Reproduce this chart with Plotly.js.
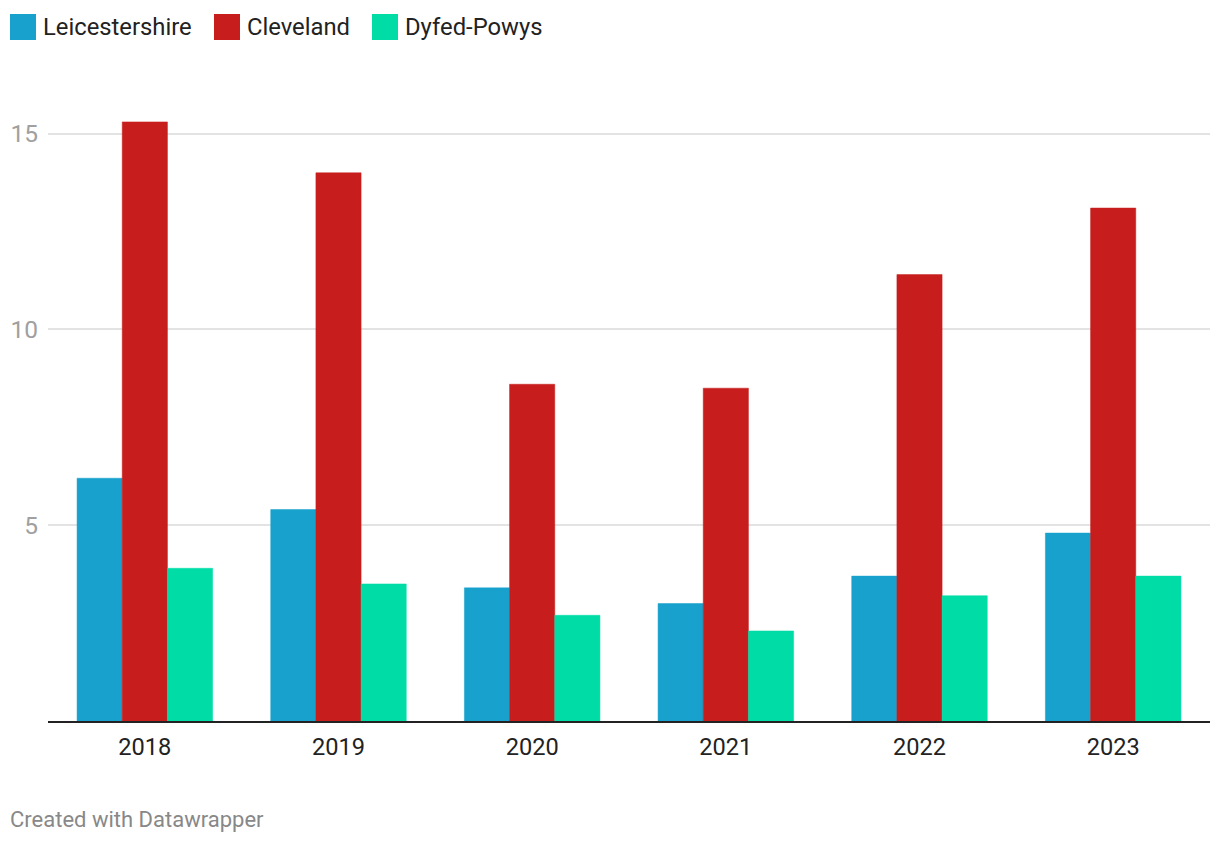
<!DOCTYPE html>
<html>
<head>
<meta charset="utf-8">
<script src="https://cdn.plot.ly/plotly-3.0.1.min.js"></script>
<style>
  html, body { margin: 0; padding: 0; background: #fff; }
  #chart { width: 1220px; height: 844px; }
</style>
</head>
<body>
<div id="chart"></div>
<script>
const years = ["2018", "2019", "2020", "2021", "2022", "2023"];
const leicestershire = [6.2, 5.4, 3.4, 3.0, 3.7, 4.8];
const cleveland = [15.3, 14.0, 8.6, 8.5, 11.4, 13.1];
const dyfedPowys = [3.9, 3.5, 2.7, 2.3, 3.2, 3.7];
const seriesNames = ["Leicestershire", "Cleveland", "Dyfed-Powys"];
const seriesColors = ["#18A1CD", "#C71E1D", "#00DCA6"];
const yTicks = [5, 10, 15];

const W = 1220, H = 844;
const margin = { l: 48, r: 10, t: 80, b: 123 };

const seriesData = [leicestershire, cleveland, dyfedPowys];
const traces = seriesData.map((vals, i) => ({
  type: "bar",
  name: seriesNames[i],
  x: years,
  y: vals,
  marker: { color: seriesColors[i], line: { width: 0.5, color: seriesColors[i] } },
  hoverinfo: "x+y+name"
}));

// custom legend (paper coords from pixel positions)
const plotW = W - margin.l - margin.r;
const plotH = H - margin.t - margin.b;
const px2x = px => (px - margin.l) / plotW;
const py2y = py => (H - margin.b - py) / plotH;

const legendX = [10, 214, 372];
const shapes = [];
const annotations = [];
seriesNames.forEach((name, i) => {
  shapes.push({
    type: "rect", xref: "paper", yref: "paper",
    x0: px2x(legendX[i]), x1: px2x(legendX[i] + 26),
    y0: py2y(14), y1: py2y(40),
    fillcolor: seriesColors[i], line: { width: 0 }
  });
  annotations.push({
    xref: "paper", yref: "paper",
    x: px2x(legendX[i] + 31), y: py2y(27),
    xanchor: "left", yanchor: "middle",
    text: name, showarrow: false,
    font: { family: "Roboto, sans-serif", size: 23.8, color: "#222" }
  });
});
annotations.push({
  xref: "paper", yref: "paper",
  x: px2x(8), y: py2y(819),
  xanchor: "left", yanchor: "middle",
  text: "Created with Datawrapper", showarrow: false,
  font: { family: "Roboto, sans-serif", size: 22, color: "#888" }
});

const layout = {
  width: W, height: H,
  margin: margin,
  paper_bgcolor: "#fff", plot_bgcolor: "#fff",
  font: { family: "Roboto, sans-serif", size: 20, color: "#222" },
  showlegend: false,
  barmode: "group",
  bargap: 0.3,
  bargroupgap: 0,
  xaxis: {
    type: "category",
    showgrid: false,
    showline: true, linecolor: "#222", linewidth: 2,
    ticks: "",
    tickfont: { size: 23.6, color: "#222" },
    ticklabelstandoff: 4,
    fixedrange: true
  },
  yaxis: {
    range: [0, 16.37],
    tickvals: yTicks,
    ticktext: yTicks.map(String),
    showgrid: true, gridcolor: "#e3e3e3", gridwidth: 2,
    zeroline: false,
    showline: false,
    ticks: "",
    tickfont: { size: 24.5, color: "#a0a0a0" },
    ticklabelstandoff: 9,
    fixedrange: true
  },
  shapes: shapes,
  annotations: annotations
};

Plotly.newPlot("chart", traces, layout, { displayModeBar: false, staticPlot: true });
</script>
</body>
</html>
